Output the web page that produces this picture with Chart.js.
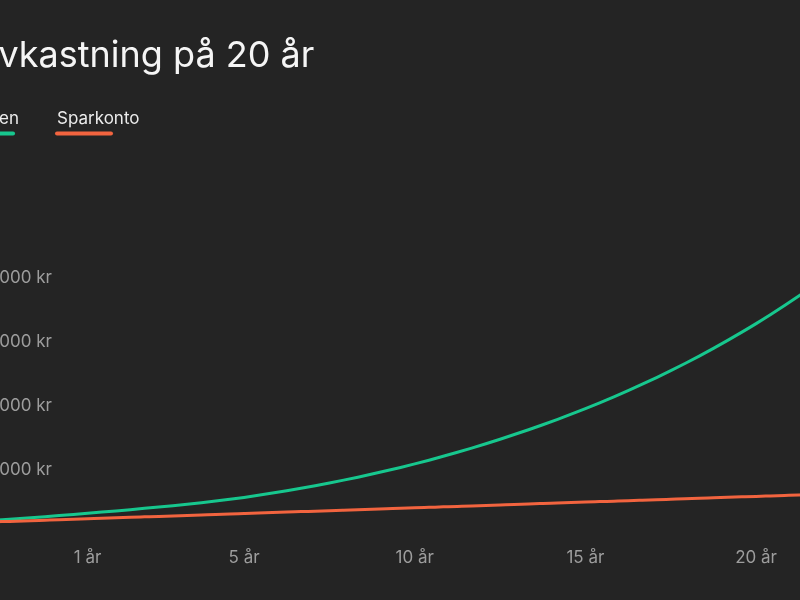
<!DOCTYPE html>
<html>
<head>
<meta charset="utf-8">
<script src="https://cdn.jsdelivr.net/npm/chart.js@4.4.1/dist/chart.umd.min.js"></script>
<style>
  html, body { margin: 0; padding: 0; background: #242424; width: 800px; height: 600px; overflow: hidden; }
  #wrap { position: absolute; left: -100px; top: 0; width: 927px; height: 600px; }
  canvas { display: block; }
</style>
</head>
<body>
<div id="wrap"><canvas id="chart" width="927" height="600"></canvas></div>
<script>
// ---- data ----
const chartTitle = 'Avkastning på 20 år';
const seriesNames = ['Fonden', 'Sparkonto'];

const xLabels = [
  '', '', '', '', '', '', '', '', '', '', '1 år',
  '', '', '', '', '', '', '', '', '', '', '5 år',
  '', '', '', '', '', '', '', '', '', '', '', '10 år',
  '', '', '', '', '', '', '', '', '', '', '', '15 år',
  '', '', '', '', '', '', '', '', '', '', '', '20 år',
  '', '', '', ''
];

const fundValues = [
  17200, 18400, 19650, 20950, 22350, 23850, 25450, 27100, 28800, 30550,
  32350, 34200, 36100, 38050, 40050, 42100, 44250, 46500, 48900, 51450,
  54200, 57200, 60450, 63900, 67550, 71400, 75450, 79700, 84150, 88800,
  93650, 98700, 104000, 109550, 115350, 121400, 127700, 134250, 141050, 148100,
  155400, 162950, 170750, 178850, 187250, 195950, 204950, 214300, 224000, 234050,
  244450, 255250, 266450, 278050, 290050, 302500, 315400, 328750, 342600, 356950,
  371800, 387150
];

const savingsValues = [
  16360, 17100, 17850, 18590, 19340, 20080, 20830, 21570, 22310, 23060,
  23800, 24550, 25290, 26040, 26780, 27520, 28270, 29010, 29760, 30500,
  31250, 31990, 32730, 33480, 34220, 34970, 35710, 36460, 37200, 37940,
  38690, 39430, 40180, 40920, 41670, 42410, 43150, 43900, 44640, 45390,
  46130, 46880, 47620, 48360, 49110, 49850, 50600, 51340, 52090, 52830,
  53570, 54320, 55060, 55810, 56550, 57300, 58040, 58780, 59530, 60270,
  61020, 61760
];

const yTickValues = [100000, 200000, 300000, 400000];

// ---- styling ----
const seriesColors = ['#17c78e', '#f2643f'];
const FONT = 'Inter, "Noto Sans", sans-serif';
const numFmt = new Intl.NumberFormat('sv-SE');

const headerPlugin = {
  id: 'header',
  afterDraw(chart) {
    const ctx = chart.ctx;
    const offset = 100; // canvas is shifted 100px left of the viewport
    ctx.save();
    // title
    ctx.font = '400 36px ' + FONT;
    ctx.fillStyle = '#f5f5f5';
    ctx.textAlign = 'left';
    ctx.textBaseline = 'alphabetic';
    ctx.fillText(chartTitle, offset - 24, 67);
    // legend: text with a coloured bar underneath
    ctx.font = '400 17px ' + FONT;
    const gap = 38;
    let x = offset + 57 - gap - ctx.measureText(seriesNames[0]).width;
    seriesNames.forEach((name, i) => {
      const w = ctx.measureText(name).width;
      ctx.fillStyle = '#ececec';
      ctx.fillText(name, x, 124);
      ctx.strokeStyle = seriesColors[i];
      ctx.lineWidth = 4;
      ctx.lineCap = 'round';
      ctx.beginPath();
      ctx.moveTo(x, 133.5);
      ctx.lineTo(x + 54, 133.5);
      ctx.stroke();
      x += w + gap;
    });
    ctx.restore();
  }
};

new Chart(document.getElementById('chart'), {
  type: 'line',
  data: {
    labels: xLabels,
    datasets: [
      {
        label: seriesNames[0],
        data: fundValues,
        borderColor: seriesColors[0],
        borderWidth: 3,
        pointRadius: 0,
        cubicInterpolationMode: 'monotone',
        fill: false,
        order: 2
      },
      {
        label: seriesNames[1],
        data: savingsValues,
        borderColor: seriesColors[1],
        borderWidth: 3,
        pointRadius: 0,
        cubicInterpolationMode: 'monotone',
        fill: false,
        order: 1
      }
    ]
  },
  options: {
    responsive: false,
    animation: false,
    layout: { padding: { left: 12.2, right: 0, top: 214, bottom: 17.6 } },
    plugins: {
      legend: { display: false },
      title: { display: false },
      tooltip: { enabled: false }
    },
    scales: {
      x: {
        grid: { display: false, drawTicks: false },
        border: { display: false },
        ticks: {
          autoSkip: false,
          maxRotation: 0,
          minRotation: 0,
          padding: 14,
          color: '#9d9d9d',
          font: { family: FONT, size: 17 }
        }
      },
      y: {
        min: 0,
        max: 500000,
        grid: { display: false, drawTicks: false },
        border: { display: false },
        afterBuildTicks: (axis) => { axis.ticks = yTickValues.map(v => ({ value: v })); },
        ticks: {
          mirror: true,
          crossAlign: 'far',
          padding: 16.6,
          color: '#9d9d9d',
          font: { family: FONT, size: 17 },
          callback: (v) => numFmt.format(v) + ' kr'
        }
      }
    }
  },
  plugins: [headerPlugin]
});
</script>
</body>
</html>
